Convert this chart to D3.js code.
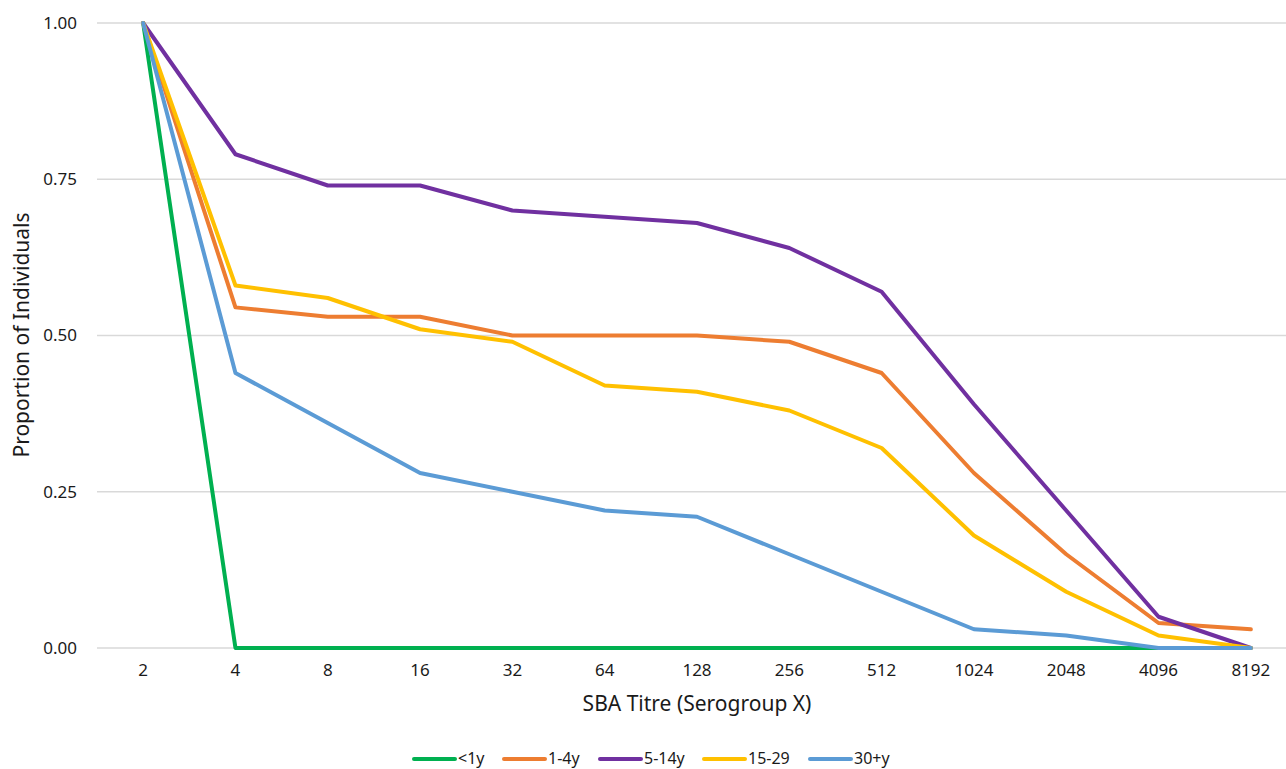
<!DOCTYPE html>
<html><head><meta charset="utf-8">
<script src="https://cdn.jsdelivr.net/npm/d3@7"></script>
<style>body{margin:0;background:#fff;}svg{display:block;font-family:"Noto Sans",sans-serif;}</style>
</head><body><svg id="c" width="1286" height="769"></svg>
<script>
const categories = ["2","4","8","16","32","64","128","256","512","1024","2048","4096","8192"];
const seriesNames = ["<1y","1-4y","5-14y","15-29","30+y"];
const seriesColors = ["#00B050","#ED7D31","#7030A0","#FFC000","#5B9BD5"];
const lt1y   = [1,0,0,0,0,0,0,0,0,0,0,0,0];
const y1to4  = [1,0.545,0.53,0.53,0.50,0.50,0.50,0.49,0.44,0.28,0.15,0.04,0.03];
const y5to14 = [1,0.79,0.74,0.74,0.70,0.69,0.68,0.64,0.57,0.39,0.22,0.05,0.00];
const y15to29= [1,0.58,0.56,0.51,0.49,0.42,0.41,0.38,0.32,0.18,0.09,0.02,0.00];
const y30plus= [1,0.44,0.36,0.28,0.25,0.22,0.21,0.15,0.09,0.03,0.02,0.00,0.00];
const yTicks = [0,0.25,0.5,0.75,1];
const seriesValues = [lt1y,y1to4,y5to14,y15to29,y30plus];

const svg = d3.select("#c");
const mLeft = 97, mRight = 1297, mTop = 23, mBottom = 648;
const x = d3.scaleBand().domain(categories).range([mLeft,mRight]);
const y = d3.scaleLinear().domain([0,1]).range([mBottom,mTop]);

// gridlines
svg.append("g").selectAll("line").data(yTicks).join("line")
  .attr("x1",mLeft).attr("x2",mRight).attr("y1",d=>y(d)).attr("y2",d=>y(d))
  .attr("stroke","#d9d9d9").attr("stroke-width",1.5);

// y axis labels
const ya = svg.append("g").attr("transform",`translate(${mLeft},0)`)
  .call(d3.axisLeft(y).tickValues(yTicks).tickFormat(d3.format(".2f")).tickSize(0).tickPadding(20));
ya.select(".domain").remove();
ya.selectAll("text").attr("font-size",17).attr("fill","#1a1a1a").attr("font-family","'Noto Sans',sans-serif");

// x axis labels
const xa = svg.append("g").attr("transform",`translate(0,${mBottom})`)
  .call(d3.axisBottom(x).tickSize(0).tickPadding(16));
xa.select(".domain").remove();
xa.selectAll("text").attr("font-size",17).attr("fill","#1a1a1a").attr("font-family","'Noto Sans',sans-serif");

// lines
const line = d3.line().x((d,i)=>x(categories[i])+x.bandwidth()/2).y(d=>y(d));
svg.append("g").selectAll("path").data(seriesValues).join("path")
  .attr("d",line).attr("fill","none")
  .attr("stroke",(d,i)=>seriesColors[i]).attr("stroke-width",4)
  .attr("stroke-linejoin","round").attr("stroke-linecap","round");

// axis titles
svg.append("text").attr("x",697).attr("y",711).attr("text-anchor","middle")
  .attr("font-size",21).attr("fill","#1a1a1a").text("SBA Titre (Serogroup X)");
svg.append("text").attr("transform","translate(29,335) rotate(-90)").attr("text-anchor","middle")
  .attr("font-size",21).attr("fill","#1a1a1a").text("Proportion of Individuals");

// legend
const legX = [413,503,599,703,809];
const lg = svg.append("g").selectAll("g").data(seriesNames).join("g")
  .attr("transform",(d,i)=>`translate(${legX[i]},759)`);
lg.append("line").attr("x1",1).attr("x2",42).attr("y1",0).attr("y2",0)
  .attr("stroke",(d,i)=>seriesColors[i]).attr("stroke-width",4).attr("stroke-linecap","round");
lg.append("text").attr("x",45).attr("y",5).attr("font-size",16).attr("fill","#1a1a1a").text(d=>d);
</script></body></html>
